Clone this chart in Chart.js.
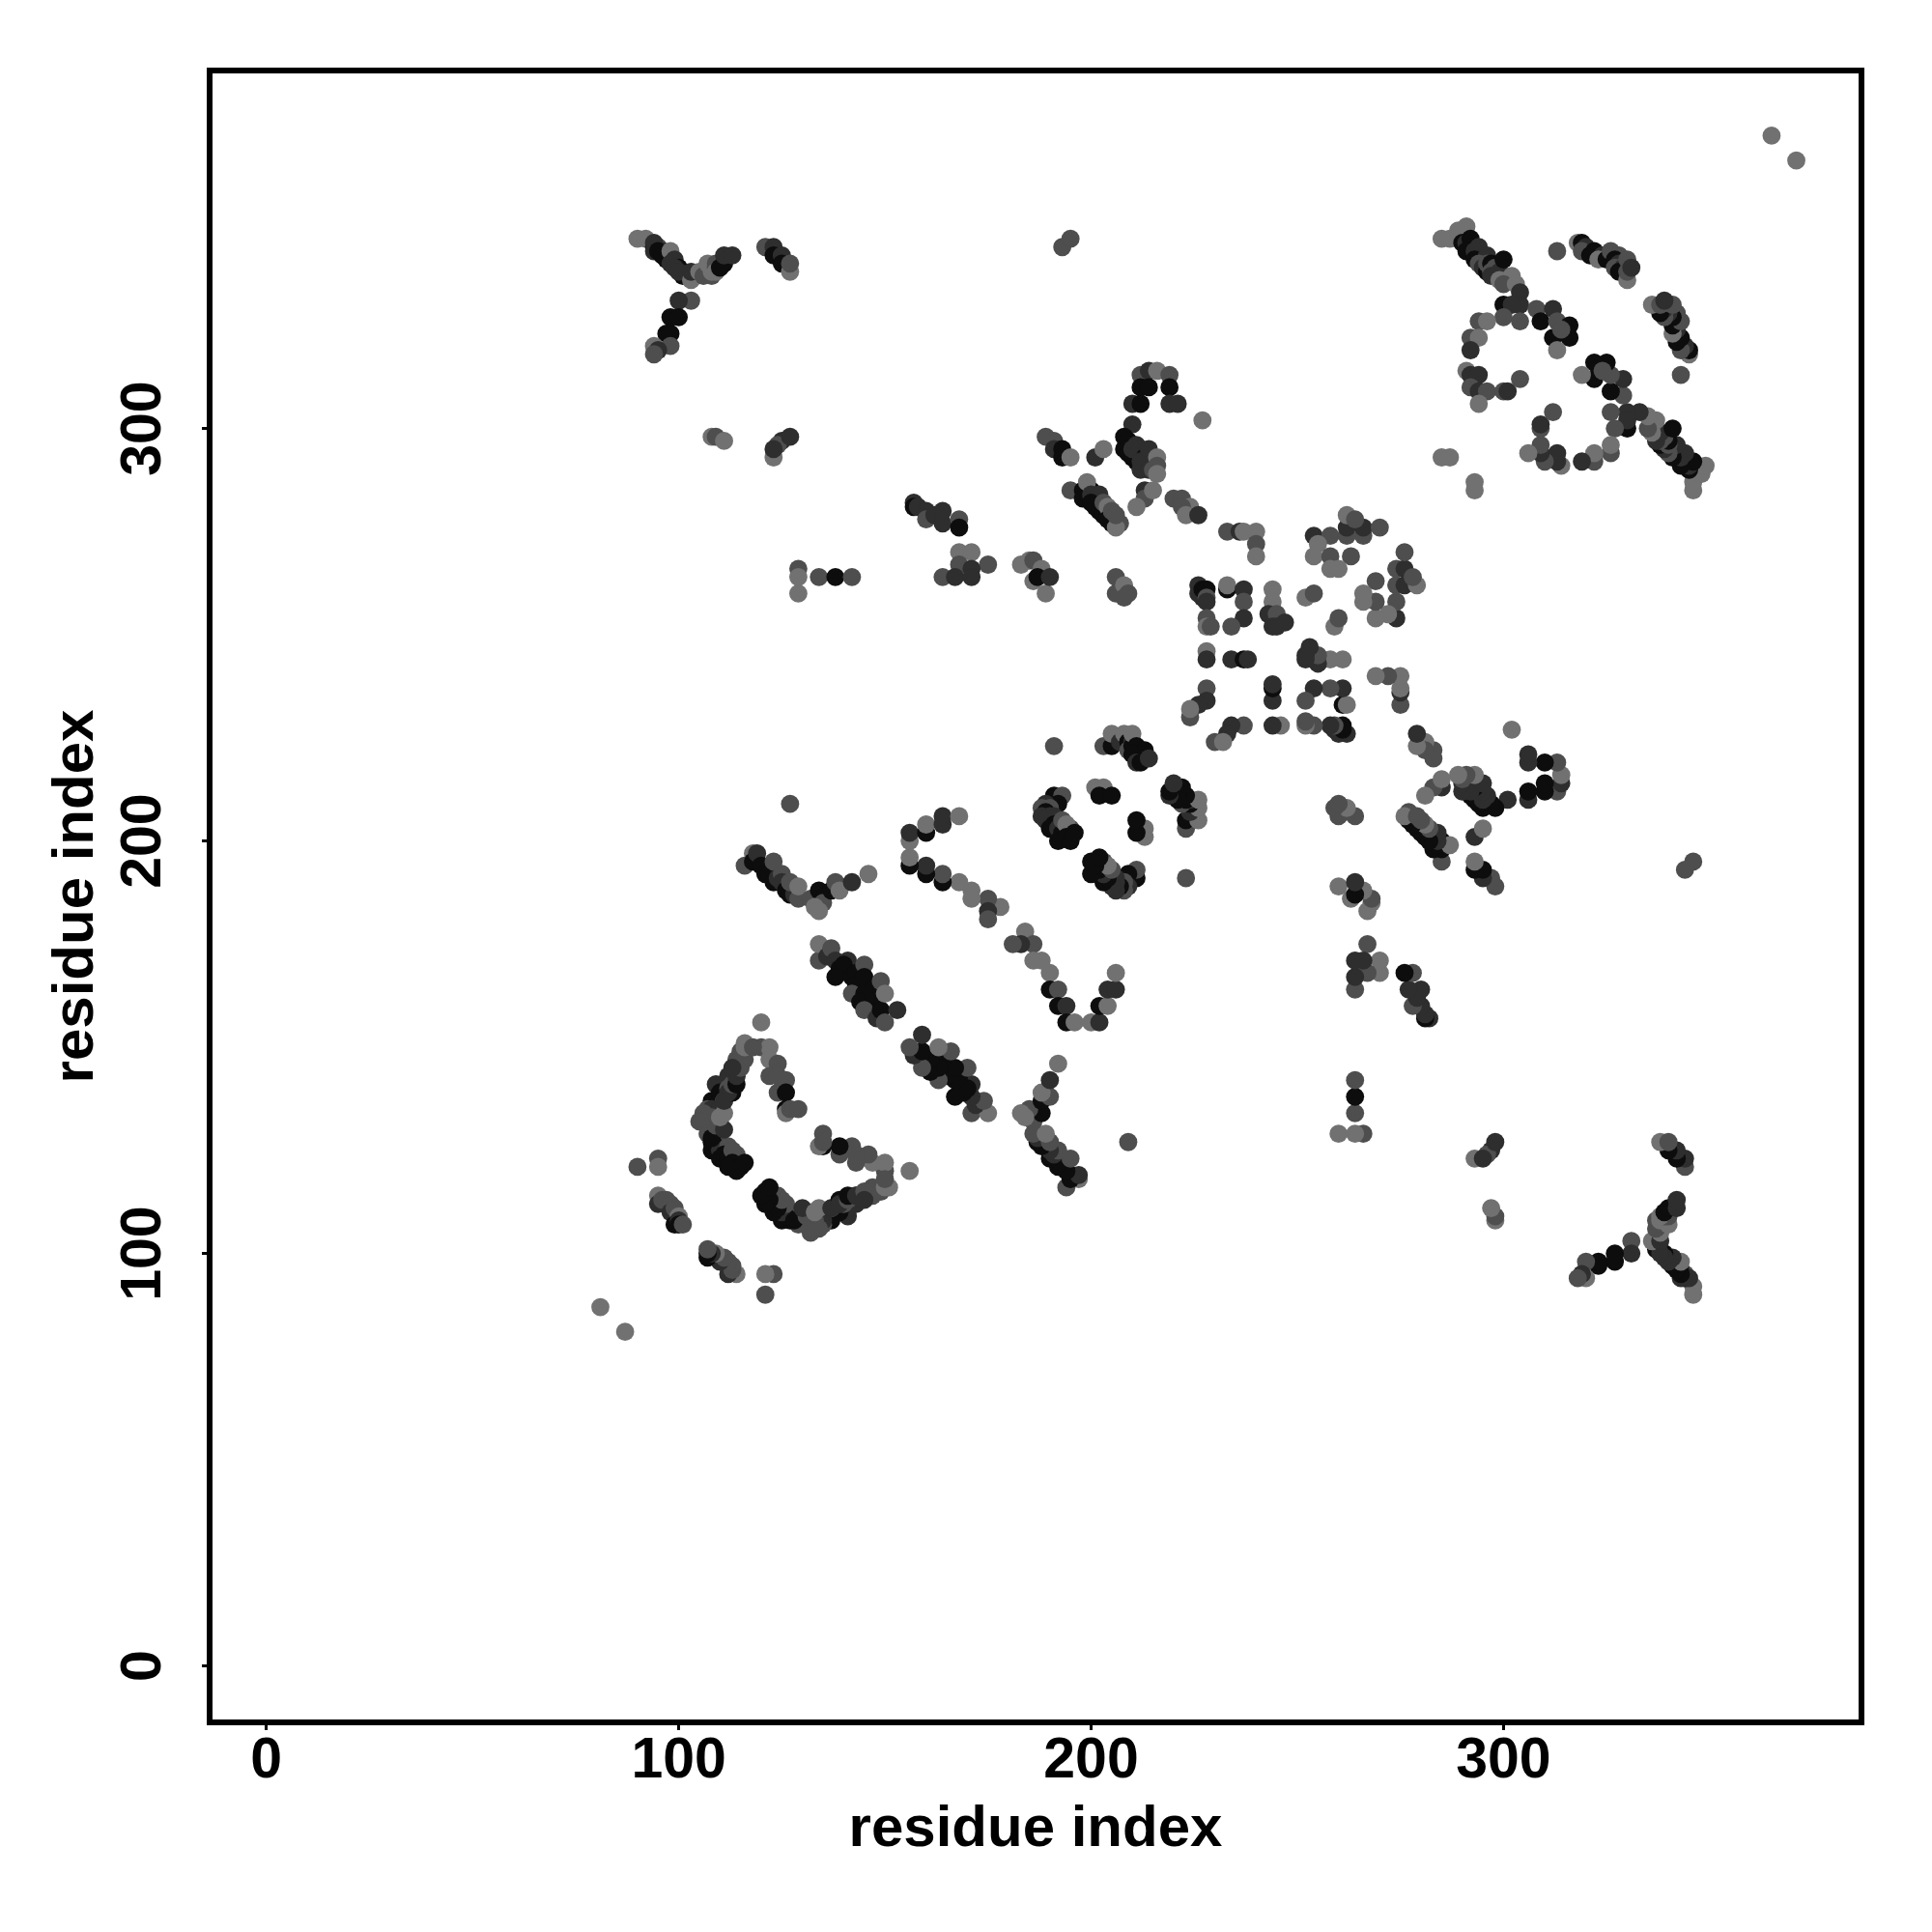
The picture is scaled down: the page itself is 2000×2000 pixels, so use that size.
<!DOCTYPE html>
<html><head><meta charset="utf-8">
<style>html,body{margin:0;padding:0;background:#fff}canvas{display:block}</style>
<script src="https://cdn.jsdelivr.net/npm/chart.js@4"></script>
</head><body><canvas id="c" width="2000" height="2000"></canvas>
<script>
// contacts: [residue i, residue j, strength level 0 (strongest) .. 3 (weakest)]; the map is symmetric
const tickValues = [0, 100, 200, 300];
const axisTitle = 'residue index';
const isolated = [[365,371,3],[81,87,3],[193,344,2],[195,346,2],[127,209,2],[191,223,2]];
const cornerA = [[90,346,3],[92,346,3],[95,344,2],[94,344,0],[94,345,1],[94,343,1],[96,343,1],[95,343,0],[96,342,0],[97,341,0],[98,343,3],[99,341,1],[98,340,1],[100,339,0],[99,339,1],[101,337,0],[100,338,1],[103,336,3],[103,338,1],[103,331,2],[100,331,1],[98,327,0],[100,327,0],[97,323,0],[98,323,0],[94,320,3],[98,320,2],[95,319,1],[94,318,2],[105,338,3],[106,337,2],[108,337,2],[107,338,2],[108,338,3],[107,340,3],[109,340,2],[109,339,2],[109,338,3],[110,339,0],[111,340,0],[111,342,1],[113,342,1]];
const cornerB = [[121,344,2],[123,344,1],[123,342,0],[125,342,1],[125,340,0],[127,338,3],[127,340,2]];
const cornerC = [[108,298,3],[109,298,2],[111,297,3],[125,297,1],[124,296,2],[123,293,3],[123,295,1],[127,298,1]];
const band129 = [[129,266,2],[129,264,3],[129,260,3],[134,264,2],[138,264,0],[142,264,2]];
const band157 = [[157,282,1],[157,281,0],[158,281,1],[160,280,1],[160,278,2],[162,279,1],[164,280,1],[164,277,1],[168,278,2],[168,276,0],[168,270,3],[171,270,3],[175,267,2],[168,267,2],[171,266,1],[164,264,2],[167,264,1],[171,264,1]];
const band183 = [[183,267,3],[185,268,3],[186,268,2],[188,266,3],[186,263,3],[187,264,0],[189,260,3],[190,264,1],[206,264,2],[206,260,2],[208,262,3],[208,259,2],[209,260,2]];
const band189 = [[189,298,2],[191,297,2],[191,295,1],[193,295,0],[193,293,0],[195,293,3],[201,293,1],[203,295,3],[195,285,2],[198,285,0],[198,283,0],[200,285,0],[199,284,0],[199,287,3],[200,284,1],[201,283,1],[201,281,0],[202,284,1],[200,282,0],[202,280,0],[203,279,0],[203,282,2],[204,281,3],[205,277,0],[204,278,0],[206,278,0],[205,280,2],[207,277,2],[206,276,3],[206,279,2]];
const band208 = [[210,301,1],[208,298,0],[208,295,0],[209,297,0],[209,294,0],[210,293,0],[211,292,0],[210,295,1],[211,296,1],[212,295,1],[213,293,0],[213,291,0],[212,292,1],[212,290,1],[214,292,1],[214,290,1],[214,295,1],[215,290,2],[216,293,3],[216,291,2],[216,289,3],[213,285,1],[213,283,2],[215,285,3],[211,281,3]];
const band212 = [[212,313,2],[214,314,1],[216,314,3],[219,313,2],[212,310,0],[214,310,0],[219,310,0],[210,306,1],[212,306,0],[219,306,1],[221,306,1],[227,302,3]];
const band220 = [[220,283,2],[222,283,2],[224,281,3],[222,281,2],[223,279,3],[226,279,1]];
const centreA = [[233,275,2],[236,275,1],[237,275,3],[240,275,3],[240,272,2],[240,269,3],[254,274,1],[258,274,2],[262,274,2],[266,274,2],[262,276,1],[266,276,1],[270,276,2],[262,279,3],[264,278,2],[255,272,3],[254,269,3],[258,269,2],[263,269,2],[258,266,3],[260,266,3]];
const centreB = [[226,262,1],[226,260,1],[227,259,1],[227,261,0],[228,261,0],[228,259,2],[228,258,1],[228,254,2],[228,252,3],[229,252,2],[233,261,0],[233,262,3],[237,261,1],[237,258,2],[237,254,1],[234,252,2],[244,261,3],[244,258,3],[243,255,1],[245,255,2],[244,252,1],[245,252,1],[247,253,1],[252,259,3],[254,260,2],[228,246,3],[228,244,1],[234,244,1],[237,244,0],[238,244,1],[228,237,2],[228,234,1],[226,233,1],[224,230,2],[224,232,3]];
const helixA = [[178,184,3],[175,186,2],[175,183,1],[175,181,2],[171,188,3],[171,186,3],[168,190,3],[164,190,0],[164,192,2],[160,192,0],[160,194,1],[156,194,0],[156,196,3],[156,200,3],[156,202,1],[160,202,0],[160,204,3],[164,204,1],[164,206,1],[168,206,3]];
const helixB = [[116,194,2],[118,197,3],[119,195,1],[118,195,0],[119,197,1],[120,194,0],[121,192,0],[122,192,0],[123,195,2],[123,190,0],[124,191,1],[125,192,2],[125,190,1],[126,188,0],[127,187,0],[128,187,1],[127,190,2],[129,186,2],[129,189,3],[132,186,2],[134,188,0],[135,185,2],[133,184,3],[134,183,3],[137,188,0],[138,190,2],[139,188,3],[142,190,1],[146,192,3]];
const helixC = [[134,171,2],[134,175,3],[136,172,1],[137,174,2],[138,171,1],[141,171,1],[139,169,0],[140,170,0],[138,167,0],[142,167,0],[143,168,0],[145,170,2],[143,165,0],[145,167,0],[142,163,2],[147,164,0],[149,166,2],[145,163,0],[144,161,0],[147,161,0],[145,159,2],[148,157,1],[149,159,0],[153,159,1],[150,156,2],[150,163,3]];
const loopA = [[116,151,3],[120,150,2],[122,150,3],[114,147,2],[116,147,2],[122,147,3],[124,146,2],[112,143,1],[114,143,2],[122,143,2],[124,143,2],[126,142,2],[109,141,1],[111,141,1],[110,139,0],[112,140,2],[124,139,2],[126,139,0],[108,137,0],[109,136,0],[111,137,3],[107,135,2],[108,135,1],[110,135,1],[110,132,3],[106,134,2],[105,132,2],[107,131,2],[108,133,2],[106,132,2],[126,135,0],[126,134,3],[127,135,2],[129,135,2],[120,156,3]];
const loopB = [[107,129,2],[108,127,0],[109,128,1],[110,127,2],[108,125,0],[109,126,0],[110,125,1],[112,126,2],[110,123,0],[111,124,0],[112,123,0],[113,125,2],[114,124,2],[113,122,0],[112,121,0],[115,121,0],[114,120,0],[116,122,0]];
const loopC = [[108,128,0],[109,131,2],[110,131,2],[111,130,1],[110,133,3],[111,134,3],[111,137,1],[113,139,0],[112,139,1],[113,141,2],[114,141,0],[114,143,1],[115,145,2],[115,147,2],[113,145,1],[115,149,2],[116,150,3],[118,150,2]];
const shortA = [[95,123,2],[95,121,3],[90,121,2],[95,114,3],[95,112,1],[96,113,2],[97,113,2],[98,112,2],[98,110,1],[99,111,2],[100,109,3],[99,107,0],[100,108,1],[100,107,0],[101,107,2]];
const coilA = [[191,211,0],[193,211,2],[192,209,0],[189,209,1],[188,208,2],[190,208,2],[189,207,0],[188,206,1],[191,206,1],[190,206,1],[189,205,1],[190,203,0],[191,204,0],[192,203,1],[193,202,0],[193,205,2],[195,203,2],[194,204,3],[192,200,0],[194,201,0],[195,200,0],[196,202,0]];
const coilB = [[201,213,3],[203,213,3],[202,211,0],[205,211,0],[203,223,2],[205,223,0],[205,226,3],[207,224,1],[208,226,3],[209,224,0],[210,224,1],[209,222,2],[210,223,0],[210,226,3],[211,223,0],[213,222,0],[211,221,0],[212,221,0],[210,221,0],[213,220,0],[211,219,1],[212,219,0],[214,220,1]];
const strandA = [[285,346,3],[287,346,3],[289,348,3],[291,349,3],[290,345,0],[291,345,1],[292,346,0],[292,344,0],[291,343,0],[293,343,1],[294,342,0],[294,344,1],[293,341,0],[295,341,0],[296,341,1],[296,342,1],[294,340,2],[295,339,1],[296,338,0],[296,340,2],[297,340,0],[297,338,2],[298,339,2],[298,337,2],[297,337,1],[299,338,1],[300,341,0],[299,336,3],[301,336,3],[302,337,3],[300,335,2],[303,335,3],[304,333,1],[304,330,1],[300,330,0],[302,330,1],[300,327,2],[304,326,2]];
const strandB = [[308,329,2],[312,329,1],[309,326,0],[313,326,2],[316,325,0],[312,322,0],[316,322,0],[314,324,2],[313,319,3]];
const strandC = [[294,326,2],[296,326,3],[292,322,2],[294,322,3],[292,319,1],[291,314,3],[292,313,1],[294,313,1],[292,310,2],[294,309,1],[296,309,2],[294,306,3],[300,309,2],[301,309,1],[304,312,2],[285,293,3],[287,293,3]];
const strandD = [[313,343,2],[318,345,3],[319,345,0],[320,344,1],[319,343,2],[321,342,0],[322,343,0],[324,342,1],[323,341,3],[325,341,0],[326,343,2],[328,342,2],[327,341,0],[328,340,1],[327,339,2],[329,339,1],[328,338,0],[330,341,2],[330,336,3],[330,338,2],[331,339,1]];
const allContacts = [...isolated,...cornerA,...cornerB,...cornerC,...band129,...band157,...band183,...band189,...band208,...band212,...band220,...centreA,...centreB,...helixA,...helixB,...helixC,...loopA,...loopB,...loopC,...shortA,...coilA,...coilB,...strandA,...strandB,...strandC,...strandD];
const shades = ['#0d0d0d','#2e2e2e','#4e4e4e','#717171'];

const points = [], colours = [];
for (const [i, j, s] of allContacts) {
  points.push({x:i, y:j}); colours.push(shades[s]);
  points.push({x:j, y:i}); colours.push(shades[s]);
}
const fixTicks = s => { s.ticks = tickValues.map(v => ({value:v})); };
const frame = { id:'frame', afterDraw(c){ const a=c.chartArea, x=c.ctx; x.save(); x.strokeStyle='#000'; x.lineWidth=6; x.lineJoin='miter'; x.strokeRect(a.left,a.top,a.right-a.left,a.bottom-a.top); x.restore(); } };
const font = {family:'"Liberation Sans", Arial, sans-serif', weight:'bold', size:59};
const titleFont = {family:'"Liberation Sans", Arial, sans-serif', weight:'bold', size:60};
new Chart(document.getElementById('c'), {
  type:'scatter',
  data:{datasets:[{data:points, pointBackgroundColor:colours, pointBorderWidth:0, pointRadius:9.4, pointHoverRadius:9.4, showLine:false}]},
  plugins:[frame],
  options:{
    responsive:false, animation:false, events:[],
    layout:{padding:{top:73,right:73,left:0,bottom:0}},
    plugins:{legend:{display:false},tooltip:{enabled:false}},
    scales:{
      x:{type:'linear',min:-13.75,max:386.8,afterBuildTicks:fixTicks,afterFit:s=>{s.height=217;},
        grid:{drawOnChartArea:false,tickLength:8,tickWidth:3,tickColor:'#000'},border:{display:false},
        ticks:{font,color:'#000',padding:-3,maxRotation:0,minRotation:0,autoSkip:false,includeBounds:false},
        title:{display:true,text:axisTitle,font:titleFont,color:'#000',padding:{top:0,bottom:70}}},
      y:{type:'linear',min:-13.7,max:386.8,afterBuildTicks:fixTicks,afterFit:s=>{s.width=217;},
        grid:{drawOnChartArea:false,tickLength:8,tickWidth:3,tickColor:'#000'},border:{display:false},
        ticks:{font,color:'#000',padding:10,minRotation:90,maxRotation:90,crossAlign:'center',autoSkip:false,includeBounds:false},
        title:{display:true,text:axisTitle,font:titleFont,color:'#000',padding:{top:43,bottom:0}}}
    }
  }
});
</script></body></html>
